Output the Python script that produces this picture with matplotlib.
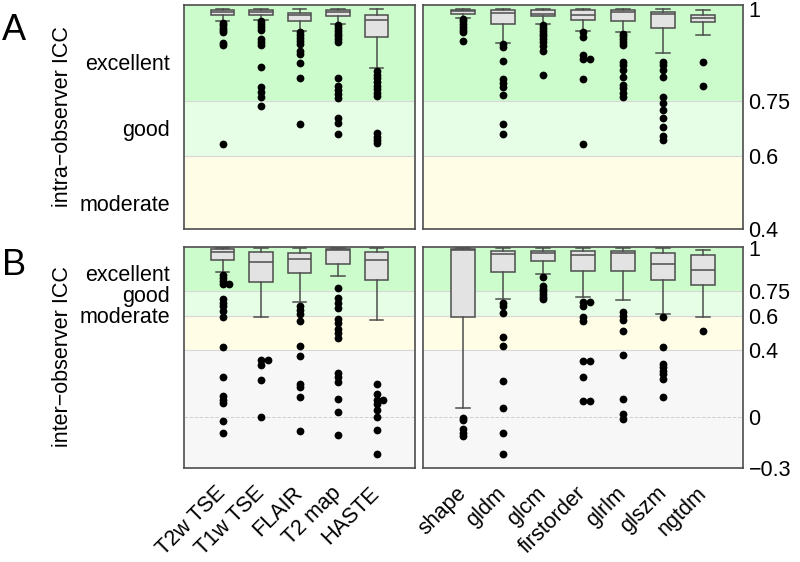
import matplotlib
matplotlib.use('Agg')
import matplotlib.pyplot as plt

plt.rcParams['font.family'] = ['Liberation Sans', 'DejaVu Sans']

# categories
sequences = ['T2w TSE', 'T1w TSE', 'FLAIR', 'T2 map', 'HASTE']
features = ['shape', 'gldm', 'glcm', 'firstorder', 'glrlm', 'glszm', 'ngtdm']
quality = ['excellent', 'good', 'moderate']

# box summaries: [whisker low, q1, median, q3, whisker high]
intra_seq_box = [
    [0.967, 0.984, 0.992, 0.997, 1.0],
    [0.972, 0.986, 0.992, 0.997, 1.0],
    [0.940, 0.968, 0.984, 0.991, 1.0],
    [0.961, 0.981, 0.993, 0.997, 1.0],
    [0.839, 0.925, 0.972, 0.986, 1.0],
]
intra_seq_out = [
    [0.962, 0.956, 0.950, 0.944, 0.938, 0.909, 0.902, 0.633],
    [0.968, 0.960, 0.952, 0.945, 0.920, 0.911, 0.902, 0.842, 0.787, 0.775, 0.762, 0.736],
    [0.937, 0.930, 0.922, 0.915, 0.905, 0.887, 0.878, 0.853, 0.812, 0.688],
    [0.958, 0.950, 0.942, 0.934, 0.926, 0.918, 0.910, 0.812, 0.791, 0.781, 0.768, 0.758,
     0.703, 0.689, 0.660],
    [0.832, 0.822, 0.812, 0.802, 0.792, 0.782, 0.772, 0.763, 0.662, 0.652, 0.643, 0.636],
]
intra_feat_box = [
    [0.977, 0.988, 0.995, 0.999, 1.0],
    [0.909, 0.959, 0.991, 0.997, 1.0],
    [0.961, 0.981, 0.988, 0.997, 1.0],
    [0.941, 0.972, 0.986, 0.997, 1.0],
    [0.937, 0.967, 0.993, 0.997, 1.0],
    [0.882, 0.948, 0.988, 0.993, 1.0],
    [0.929, 0.966, 0.977, 0.986, 0.997],
]
intra_feat_out = [
    [0.975, 0.967, 0.960, 0.952, 0.944, 0.937, 0.914],
    [0.906, 0.897, 0.859, 0.811, 0.799, 0.789, 0.766, 0.688, 0.660],
    [0.958, 0.950, 0.942, 0.934, 0.926, 0.918, 0.910, 0.900, 0.886, 0.821],
    [0.937, 0.925, 0.875, 0.864, 0.864, 0.810, 0.632],
    [0.934, 0.926, 0.918, 0.910, 0.902, 0.857, 0.848, 0.834, 0.816, 0.793, 0.785, 0.771, 0.762],
    [0.857, 0.848, 0.834, 0.814, 0.762, 0.744, 0.726, 0.703, 0.680, 0.653, 0.644],
    [0.857, 0.791],
]
inter_seq_box = [
    [0.859, 0.930, 0.978, 0.994, 1.0],
    [0.593, 0.800, 0.919, 0.980, 1.0],
    [0.680, 0.855, 0.935, 0.974, 1.0],
    [0.835, 0.909, 0.988, 0.994, 1.0],
    [0.573, 0.815, 0.930, 0.980, 1.0],
]
inter_seq_out = [
    [0.845, 0.826, 0.806, 0.790, 0.790, 0.700, 0.677, 0.657, 0.631, 0.591, 0.418, 0.240,
     0.125, 0.105, 0.085, -0.024, -0.093],
    [0.339, 0.339, 0.310, 0.220, 0.000],
    [0.660, 0.637, 0.613, 0.570, 0.425, 0.363, 0.200, 0.180, 0.120, -0.083],
    [0.766, 0.706, 0.676, 0.647, 0.583, 0.557, 0.522, 0.498, 0.468, 0.264, 0.240, 0.210,
     0.111, 0.031, -0.103],
    [0.196, 0.137, 0.105, 0.105, 0.077, 0.042, 0.002, -0.073, -0.216],
]
inter_feat_box = [
    [0.058, 0.593, 0.990, 0.994, 1.0],
    [0.700, 0.861, 0.964, 0.984, 1.0],
    [0.851, 0.925, 0.974, 0.984, 1.0],
    [0.712, 0.865, 0.958, 0.984, 1.0],
    [0.696, 0.865, 0.974, 0.984, 1.0],
    [0.613, 0.815, 0.909, 0.970, 1.0],
    [0.593, 0.782, 0.869, 0.958, 0.990],
]
inter_feat_out = [
    [-0.006, -0.018, -0.067, -0.093, -0.113],
    [0.677, 0.657, 0.617, 0.474, 0.424, 0.214, 0.055, -0.093, -0.216],
    [0.829, 0.776, 0.760, 0.745, 0.730, 0.715, 0.700],
    [0.680, 0.680, 0.660, 0.593, 0.571, 0.335, 0.335, 0.240, 0.097, 0.097],
    [0.623, 0.597, 0.573, 0.508, 0.369, 0.111, 0.018, -0.008],
    [0.593, 0.418, 0.315, 0.296, 0.276, 0.256, 0.226, 0.121],
    [0.508],
]

intra_ticks = [1, 0.75, 0.6, 0.4]
inter_ticks = [1, 0.75, 0.6, 0.4, 0, -0.3]
intra_quality_pos = [0.856, 0.675, 0.47]
inter_quality_pos = [0.857, 0.732, 0.607]

band_colors = {'excellent': '#ccfccc', 'good': '#e6fde6', 'moderate': '#fffde6', 'poor': '#f7f7f7'}
edge_col = '#4d4d4d'
FS = 15.5


def draw_panel(ax, labels, boxes, outliers, ylim):
    ymin, ymax = ylim
    # agreement bands
    ax.axhspan(0.75, ymax, color=band_colors['excellent'], zorder=0, lw=0)
    ax.axhspan(0.6, 0.75, color=band_colors['good'], zorder=0, lw=0)
    ax.axhspan(0.4, 0.6, color=band_colors['moderate'], zorder=0, lw=0)
    if ymin < 0.4:
        ax.axhspan(ymin, 0.4, color=band_colors['poor'], zorder=0, lw=0)
        ax.axhline(0, color='#d0d0d0', ls='--', lw=0.7, zorder=0.5)
    for b in [0.75, 0.6, 0.4]:
        if b > ymin:
            ax.axhline(b, color='#d8d8d8', lw=0.8, zorder=0.5)

    stats = []
    for lab, (lo, q1, med, q3, hi) in zip(labels, boxes):
        stats.append({'label': lab, 'whislo': lo, 'q1': q1, 'med': med,
                      'q3': q3, 'whishi': hi, 'fliers': []})
    pos = list(range(1, len(labels) + 1))
    ax.bxp(stats, positions=pos, widths=0.62, capwidths=0.36, patch_artist=True,
           showfliers=False,
           boxprops=dict(facecolor='#e3e3e3', edgecolor=edge_col, linewidth=1.1),
           medianprops=dict(color=edge_col, linewidth=1.1),
           whiskerprops=dict(color=edge_col, linewidth=1.1),
           capprops=dict(color=edge_col, linewidth=1.1))

    # outliers, identical values dodged sideways
    for p, vals in zip(pos, outliers):
        seen = {}
        xs = []
        for v in vals:
            n = seen.get(v, 0)
            xs.append(p + 0.18 * n)
            seen[v] = n + 1
        ax.plot(xs, vals, 'o', color='black', ms=5.6, mec='none', zorder=3)

    ax.set_xlim(0, len(labels) + 1)
    ax.set_ylim(ymin, ymax)
    for s in ax.spines.values():
        s.set_color(edge_col)
        s.set_linewidth(1.2)
    ax.tick_params(length=0)


fig = plt.figure(figsize=(8, 5.62), dpi=100)
W, H = 800, 562


def add_axes(x0, x1, ytop, ybot):
    return fig.add_axes([x0 / W, 1 - ybot / H, (x1 - x0) / W, (ybot - ytop) / H])


ax_a1 = add_axes(184, 415, 5, 229)
ax_a2 = add_axes(423, 743, 5, 229)
ax_b1 = add_axes(184, 415, 247, 468)
ax_b2 = add_axes(423, 743, 247, 468)

draw_panel(ax_a1, sequences, intra_seq_box, intra_seq_out, (0.4, 1.012))
draw_panel(ax_a2, features, intra_feat_box, intra_feat_out, (0.4, 1.012))
draw_panel(ax_b1, sequences, inter_seq_box, inter_seq_out, (-0.3, 1.008))
draw_panel(ax_b2, features, inter_feat_box, inter_feat_out, (-0.3, 1.008))


def fmt(t):
    return f'{t:g}'.replace('-', '\u2212')


for ax_l, ax_r, qpos, ticks in [(ax_a1, ax_a2, intra_quality_pos, intra_ticks),
                                (ax_b1, ax_b2, inter_quality_pos, inter_ticks)]:
    ax_l.set_yticks(qpos)
    ax_l.set_yticklabels(quality, fontsize=FS)
    ax_l.tick_params(axis='y', pad=10)
    ax_r.yaxis.tick_right()
    ax_r.set_yticks(ticks)
    ax_r.set_yticklabels([fmt(t) for t in ticks], fontsize=FS)
    ax_r.tick_params(axis='y', pad=4)

for ax in (ax_a1, ax_a2):
    ax.set_xticks([])

for ax, labels in [(ax_b1, sequences), (ax_b2, features)]:
    ax.set_xticks(range(1, len(labels) + 1))
    ax.set_xticklabels(labels, rotation=45, ha='right', va='center',
                       rotation_mode='anchor', fontsize=FS)
    ax.tick_params(axis='x', pad=16)

fig.text(63 / W, 1 - 117 / H, 'intra\u2212observer ICC', rotation=90,
         ha='center', va='center', fontsize=FS)
fig.text(63 / W, 1 - 357 / H, 'inter\u2212observer ICC', rotation=90,
         ha='center', va='center', fontsize=FS)
fig.text(14 / W, 1 - 31 / H, 'A', ha='center', va='center', fontsize=26)
fig.text(14 / W, 1 - 266 / H, 'B', ha='center', va='center', fontsize=26)

fig.savefig('out.png', dpi=100)
